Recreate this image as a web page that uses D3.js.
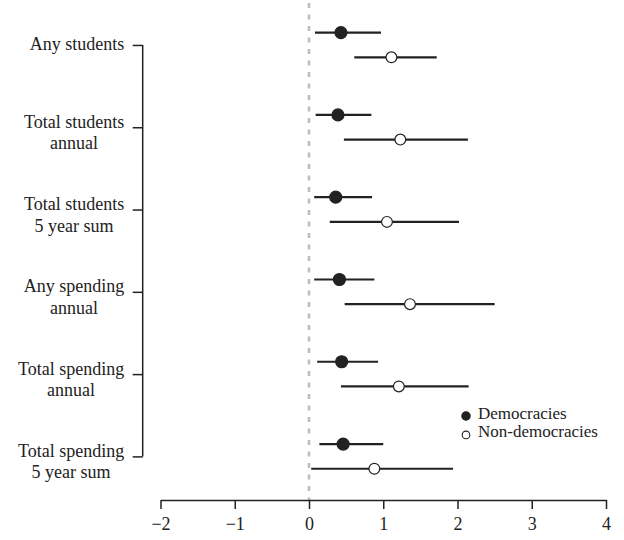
<!DOCTYPE html>
<html>
<head>
<meta charset="utf-8">
<script src="https://cdn.jsdelivr.net/npm/d3@7"></script>
<style>
  html, body { margin: 0; padding: 0; background: #fff; }
  svg { display: block; font-family: "Liberation Serif", "Times New Roman", serif; }
</style>
</head>
<body>
<svg id="chart" width="624" height="540"></svg>
<script>
// Outcome measures (top to bottom)
const categories = [
  "Any students",
  "Total students\nannual",
  "Total students\n5 year sum",
  "Any spending\nannual",
  "Total spending\nannual",
  "Total spending\n5 year sum"
];

// Point estimates and 95% intervals, democracies
const demEstimate = [0.43, 0.39, 0.36, 0.41, 0.44, 0.46];
const demLower    = [0.08, 0.09, 0.07, 0.07, 0.11, 0.14];
const demUpper    = [0.97, 0.84, 0.85, 0.88, 0.93, 1.00];

// Point estimates and 95% intervals, non-democracies
const nondemEstimate = [1.11, 1.23, 1.05, 1.36, 1.21, 0.88];
const nondemLower    = [0.61, 0.47, 0.28, 0.48, 0.43, 0.03];
const nondemUpper    = [1.72, 2.14, 2.02, 2.50, 2.15, 1.94];

const xTicks = [-2, -1, 0, 1, 2, 3, 4];
const seriesNames = ["Democracies", "Non-democracies"];

const ink = "#222";
const svg = d3.select("#chart");

const x = d3.scaleLinear().domain([-2, 4]).range([160.5, 606]);
const y = d3.scaleLinear().domain([-0.51, 5.53]).range([3, 500]);
const offset = 0.15;

// Reference line at zero
svg.append("line")
  .attr("x1", x(0)).attr("x2", x(0))
  .attr("y1", y(-0.51)).attr("y2", y(5.53))
  .attr("stroke", "#bdbdbd")
  .attr("stroke-width", 2.6)
  .attr("stroke-dasharray", "5,6.5");

// Bottom axis
const xAxis = svg.append("g")
  .attr("transform", `translate(0,500)`)
  .call(d3.axisBottom(x).tickValues(xTicks).tickSize(9).tickSizeOuter(0).tickPadding(8)
    .tickFormat(d => d < 0 ? "\u2212" + Math.abs(d) : String(d)));
xAxis.select(".domain").attr("stroke", ink).attr("stroke-width", 1.5);
xAxis.selectAll(".tick line").attr("stroke", ink).attr("stroke-width", 1.5);
xAxis.selectAll(".tick text")
  .attr("fill", ink)
  .attr("font-size", 18)
  .attr("font-family", "Liberation Serif, serif");

// Left axis with multi-line category labels
const yAxis = svg.append("g")
  .attr("transform", `translate(142.7,0)`)
  .call(d3.axisLeft(y).tickValues(d3.range(categories.length)).tickSize(10).tickSizeOuter(0)
    .tickFormat(i => categories[i]));
yAxis.select(".domain").remove();
yAxis.append("line")
  .attr("x1", 0).attr("x2", 0)
  .attr("y1", y(0)).attr("y2", y(categories.length - 1))
  .attr("stroke", ink).attr("stroke-width", 1.5);
yAxis.selectAll(".tick line").attr("stroke", ink).attr("stroke-width", 1.5);
yAxis.selectAll(".tick text").each(function (i) {
  const t = d3.select(this);
  const lines = categories[i].split("\n");
  t.text(null)
    .attr("x", -18.5)
    .attr("dy", null)
    .attr("fill", ink)
    .attr("font-size", 18)
    .attr("font-family", "Liberation Serif, serif")
    .attr("text-anchor", "middle");
  if (lines.length === 1) {
    t.append("tspan").attr("y", 5).text(lines[0]);
  } else {
    t.append("tspan").attr("y", 0).text(lines[0]);
    t.append("tspan").attr("y", 21.5).text(lines[1]);
  }
});
// Center each label block on its widest line, right-aligned to the axis
yAxis.selectAll(".tick text").each(function () {
  const spans = d3.select(this).selectAll("tspan").nodes();
  const w = d3.max(spans.map(s => s.getComputedTextLength()));
  spans.forEach(s => d3.select(s).attr("x", -18.5 - w / 2));
});

// Interval lines and points
const groups = [
  { est: demEstimate, lo: demLower, hi: demUpper, off: -offset, fill: ink, r: 6 },
  { est: nondemEstimate, lo: nondemLower, hi: nondemUpper, off: offset, fill: "#fff", r: 5.4 }
];
const plot = svg.append("g");
groups.forEach(g => {
  plot.selectAll(null)
    .data(d3.range(categories.length))
    .enter().append("line")
    .attr("x1", i => x(g.lo[i])).attr("x2", i => x(g.hi[i]))
    .attr("y1", i => y(i + g.off)).attr("y2", i => y(i + g.off))
    .attr("stroke", ink).attr("stroke-width", 2.2);
});
groups.forEach(g => {
  plot.selectAll(null)
    .data(d3.range(categories.length))
    .enter().append("circle")
    .attr("cx", i => x(g.est[i]))
    .attr("cy", i => y(i + g.off))
    .attr("r", g.r)
    .attr("fill", g.fill)
    .attr("stroke", ink).attr("stroke-width", 1.2);
});

// Legend
const legendStep = 18.9;
const legend = svg.append("g").attr("transform", "translate(466,416)");
seriesNames.forEach((name, k) => {
  legend.append("circle")
    .attr("cx", 0).attr("cy", k * legendStep)
    .attr("r", k === 0 ? 4.2 : 3.8)
    .attr("fill", k === 0 ? ink : "#fff")
    .attr("stroke", ink).attr("stroke-width", 1.1);
  legend.append("text")
    .attr("x", 12).attr("y", k * legendStep + 2.5)
    .attr("font-size", 17)
    .attr("fill", ink)
    .text(name);
});
</script>
</body>
</html>
